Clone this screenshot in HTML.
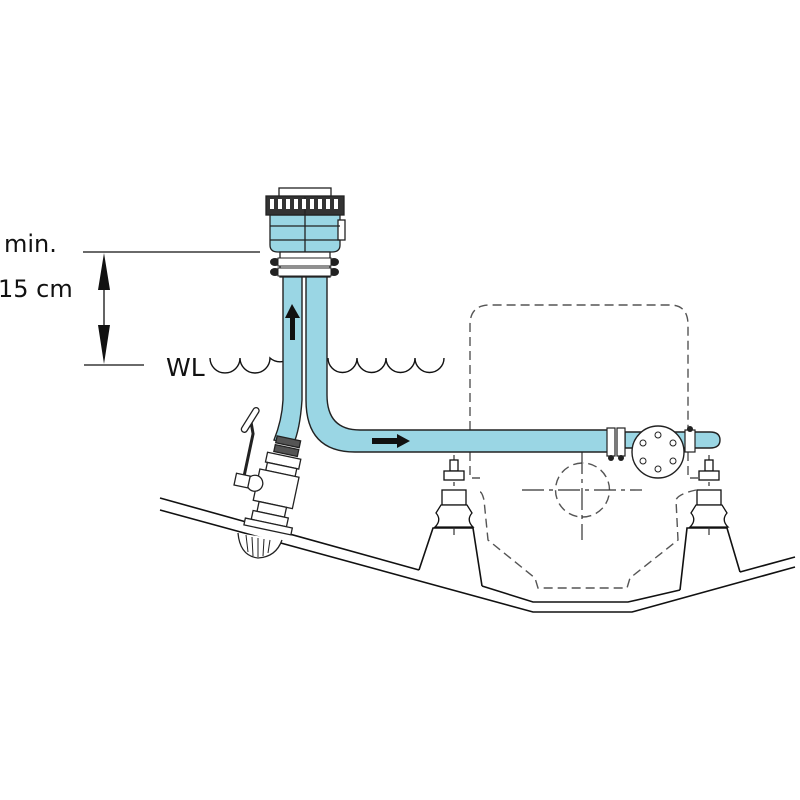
<!DOCTYPE html>
<html><head><style>body{margin:0;background:#fff}svg{display:block}</style></head><body>
<svg width="800" height="800" viewBox="0 0 800 800" xmlns="http://www.w3.org/2000/svg" font-family="Liberation Sans, sans-serif">
<rect width="800" height="800" fill="#fff"/>
<!-- hull -->
<g fill="none" stroke="#111" stroke-width="1.6">
<polyline points="160,498 419,570"/>
<polyline points="482,586 533,602 628,602 680,590"/>
<polyline points="740,572 795,557"/>
<polyline points="160,510 533,612 632,612 795,567"/>
<polyline points="419,570 433,528 473,528 482,586"/>
<polyline points="680,590 687,528 727,528 740,572"/>
</g>
<!-- engine dashed -->
<g fill="none" stroke="#555" stroke-width="1.4" stroke-dasharray="9,5">
<path d="M470,430 V325 Q470,305 490,305 H670 Q688,305 688,325 V430"/>
<path d="M470,452 V478 H480 M480,492 Q482,492 484,500 L488,540 L535,578 L538,588 L627,588 L630,578 L678,540 L676,500 Q678,494 696,490"/>
<path d="M688,452 V478 H698"/>
<path d="M582,463 A27,27 0 1,0 583,463"/>
</g>
<g stroke="#333" stroke-width="1.2" stroke-dasharray="22,5,4,5" fill="none">
<line x1="522" y1="490" x2="642" y2="490"/>
<line x1="582" y1="452" x2="582" y2="540"/>
<line x1="454" y1="455" x2="454" y2="535"/>
<line x1="709" y1="455" x2="709" y2="535"/>
</g>
<!-- mounts -->
<g fill="#fff" stroke="#111" stroke-width="1.3">
<rect x="450" y="460" width="8" height="11"/><rect x="444" y="471" width="20" height="9"/>
<rect x="442" y="490" width="24" height="15"/>
<path d="M441,505 H467 L472,513 Q466,520 473,527 H435 Q442,520 436,513 Z"/>
<rect x="705" y="460" width="8" height="11"/><rect x="699" y="471" width="20" height="9"/>
<rect x="697" y="490" width="24" height="15"/>
<path d="M696,505 H722 L727,513 Q721,520 728,527 H690 Q697,520 691,513 Z"/>
</g>
<!-- dimension -->
<g stroke="#111" stroke-width="1.3">
<line x1="83" y1="252" x2="260" y2="252"/>
<line x1="84" y1="365" x2="144" y2="365"/>
<line x1="104" y1="262" x2="104" y2="355"/>
</g>
<path d="M104,253 L98,290 H110 Z M104,364 L98,325 H110 Z" fill="#111"/>
<text x="4" y="252" font-size="24" fill="#111" font-family="DejaVu Sans, sans-serif">min.</text>
<text x="-2" y="297" font-size="24" fill="#111" font-family="DejaVu Sans, sans-serif">15 cm</text>
<text x="166" y="376" font-size="25" fill="#111" font-family="DejaVu Sans, sans-serif">WL</text>
<!-- waves -->
<path d="M210,358 a15,15 0 0,0 30,0 a15,15 0 0,0 30,0 a15,15 0 0,0 20,0 M328,358 a14,14 0 0,0 29,0 a14,14 0 0,0 29,0 a14,14 0 0,0 29,0 a14,14 0 0,0 29,0" fill="none" stroke="#111" stroke-width="1.4"/>
<!-- pipes -->
<g fill="#9ad6e4" stroke="#222" stroke-width="1.4">
<path d="M283,275 H302 V400 Q300,430 293,445 L274,440 Q282,420 283,400 Z"/>
<path d="M306,275 H327 V395 Q327,430 360,430 H610 V452 H355 Q306,452 306,400 Z"/>
<path d="M625,432 H710 Q720,432 720,440 Q720,448 710,448 H625 Z"/>
</g>
<path d="M292,304 L285,318 H290 V340 H295 V318 H300 Z" fill="#111"/>
<path d="M410,441 L397,434 V438 H372 V444 H397 V448 Z" fill="#111"/>
<!-- strainer -->
<g stroke="#222" stroke-width="1.3">
<path d="M270,215 H340 V245 Q340,252 332,252 H278 Q270,252 270,245 Z" fill="#9ad6e4"/>
<rect x="338" y="220" width="7" height="20" fill="#fff"/>
<rect x="266" y="196" width="78" height="19" fill="#333"/>
<rect x="279" y="188" width="52" height="8" fill="#fff"/>
<line x1="305" y1="196" x2="305" y2="275"/>
<line x1="270" y1="226" x2="340" y2="226"/>
<line x1="270" y1="240" x2="340" y2="240"/>
<rect x="280" y="252" width="50" height="25" fill="#fff"/>
</g>
<g fill="#fff">
<rect x="270" y="199" width="4" height="10"/><rect x="278" y="199" width="4" height="10"/><rect x="286" y="199" width="4" height="10"/><rect x="294" y="199" width="4" height="10"/><rect x="302" y="199" width="4" height="10"/><rect x="310" y="199" width="4" height="10"/><rect x="318" y="199" width="4" height="10"/><rect x="326" y="199" width="4" height="10"/><rect x="334" y="199" width="4" height="10"/>
</g>
<g fill="#222"><ellipse cx="275" cy="262" rx="5" ry="4"/><ellipse cx="275" cy="272" rx="5" ry="4"/><ellipse cx="334" cy="262" rx="5" ry="4"/><ellipse cx="334" cy="272" rx="5" ry="4"/></g>
<g fill="#fff" stroke="#222" stroke-width="1"><rect x="278" y="258" width="53" height="8"/><rect x="278" y="268" width="53" height="8"/></g>
<!-- pump clamps -->
<g fill="#fff" stroke="#222" stroke-width="1.2">
<rect x="607" y="428" width="8" height="28"/><rect x="617" y="428" width="8" height="28"/>
<rect x="685" y="430" width="10" height="22"/>
</g>
<g fill="#222"><circle cx="611" cy="458" r="3"/><circle cx="621" cy="458" r="3"/><circle cx="690" cy="429" r="3"/></g>
<circle cx="658" cy="452" r="26" fill="#fff" stroke="#222" stroke-width="1.4"/>
<g fill="#fff" stroke="#222" stroke-width="1"><circle cx="658" cy="435" r="3"/><circle cx="658" cy="469" r="3"/><circle cx="643" cy="443" r="3"/><circle cx="673" cy="443" r="3"/><circle cx="643" cy="461" r="3"/><circle cx="673" cy="461" r="3"/></g>
<!-- valve -->
<g transform="rotate(12,278,480)" fill="#fff" stroke="#222" stroke-width="1.3">
<rect x="268" y="437" width="24" height="7" fill="#555"/><rect x="268" y="446" width="24" height="7" fill="#555"/>
<rect x="262" y="455" width="34" height="10"/><rect x="264" y="465" width="30" height="8"/>
<rect x="258" y="473" width="40" height="32"/>
<rect x="264" y="505" width="28" height="10"/><rect x="260" y="515" width="36" height="9"/>
<rect x="254" y="524" width="48" height="7"/>
<circle cx="256" cy="488" r="8"/>
<rect x="236" y="482" width="14" height="12"/>
<path d="M244,482 L244,440 L238,425" fill="none" stroke-width="3"/>
<rect x="235" y="413" width="6" height="28" rx="3" transform="rotate(20,238,428)"/>
</g>
<path d="M238,533 Q240,556 258,558 Q276,557 282,540" fill="#fff" stroke="#222" stroke-width="1.3"/>
<g stroke="#222" stroke-width="1"><line x1="246" y1="535" x2="248" y2="552"/><line x1="252" y1="537" x2="253" y2="556"/><line x1="258" y1="538" x2="258" y2="557"/><line x1="264" y1="539" x2="263" y2="556"/><line x1="270" y1="540" x2="268" y2="553"/></g>
</svg>
</body></html>
